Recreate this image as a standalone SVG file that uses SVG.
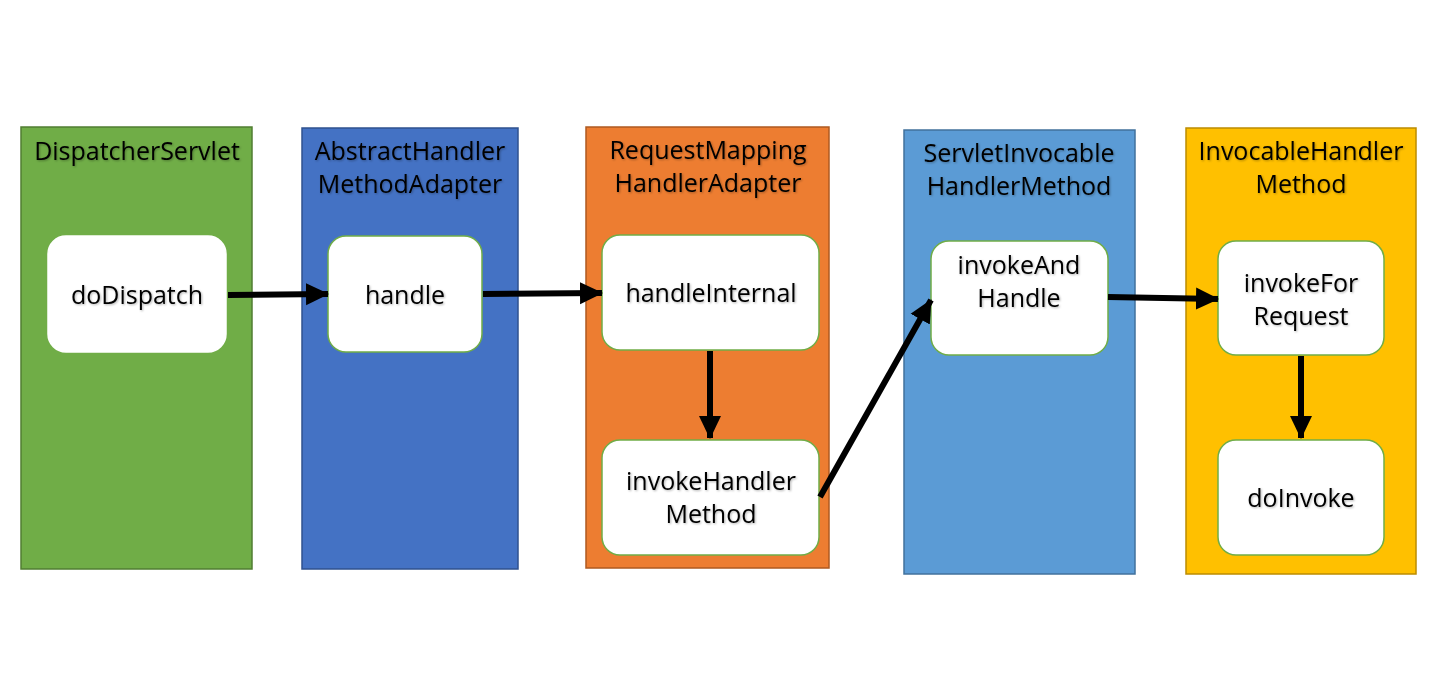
<svg xmlns="http://www.w3.org/2000/svg" width="1440" height="698" viewBox="0 0 1440 698">
<style>
text{font-family:"Open Sans","Noto Sans",sans-serif;font-size:25px;fill:#000;text-anchor:middle;filter:url(#sh)}
.node rect{fill:#fff;stroke:#70AD47;stroke-width:1.5}
.conn line{stroke:#000;stroke-width:6}
</style>
<defs>
<filter id="sh" x="-10%" y="-20%" width="120%" height="150%"><feDropShadow dx="1" dy="1" stdDeviation="0.8" flood-color="#000" flood-opacity="0.3"/></filter>
<marker id="ah" markerUnits="userSpaceOnUse" markerWidth="24" markerHeight="24" refX="22" refY="12" orient="auto"><path d="M0,1 L23,12 L0,23 Z" fill="#000"/></marker>
</defs>
<rect width="1440" height="698" fill="#fff"/>
<g id="c1"><rect x="21" y="127" width="231" height="442" fill="#70AD47" stroke="#507E32" stroke-width="1.5"/><text x="137" y="160">DispatcherServlet</text></g>
<g id="c2"><rect x="302" y="128" width="216" height="441" fill="#4472C4" stroke="#2F528F" stroke-width="1.5"/><text x="410" y="160">AbstractHandler</text><text x="410" y="193">MethodAdapter</text></g>
<g id="c3"><rect x="586" y="127" width="243" height="441" fill="#ED7D31" stroke="#AE5A21" stroke-width="1.5"/><text x="708" y="159">RequestMapping</text><text x="708" y="192">HandlerAdapter</text></g>
<g id="c4"><rect x="904" y="130" width="231" height="444" fill="#5B9BD5" stroke="#41719C" stroke-width="1.5"/><text x="1019" y="162">ServletInvocable</text><text x="1019" y="195">HandlerMethod</text></g>
<g id="c5"><rect x="1186" y="128" width="230" height="446" fill="#FFC000" stroke="#BC8C00" stroke-width="1.5"/><text x="1301" y="160">InvocableHandler</text><text x="1301" y="193">Method</text></g>
<g id="n1" class="node"><rect x="48" y="236" width="178" height="116" rx="18" style="stroke:#fff"/><text x="137" y="304">doDispatch</text></g>
<g id="n2" class="node"><rect x="328" y="236" width="154" height="116" rx="18"/><text x="405" y="304">handle</text></g>
<g id="n3" class="node"><rect x="602" y="235" width="217" height="115" rx="18"/><text x="711" y="302">handleInternal</text></g>
<g id="n4" class="node"><rect x="602" y="440" width="217" height="115" rx="18"/><text x="711" y="490">invokeHandler</text><text x="711" y="523">Method</text></g>
<g id="n5" class="node"><rect x="931" y="241" width="177" height="114" rx="18"/><text x="1019" y="274">invokeAnd</text><text x="1019" y="307">Handle</text></g>
<g id="n6" class="node"><rect x="1218" y="241" width="166" height="114" rx="18"/><text x="1301" y="292">invokeFor</text><text x="1301" y="325">Request</text></g>
<g id="n7" class="node"><rect x="1218" y="440" width="166" height="115" rx="18"/><text x="1301" y="507">doInvoke</text></g>
<g id="connectors" class="conn">
<line x1="228" y1="295" x2="328" y2="294" marker-end="url(#ah)"/>
<line x1="483" y1="294" x2="602" y2="293" marker-end="url(#ah)"/>
<line x1="710" y1="351" x2="710" y2="438" marker-end="url(#ah)"/>
<line x1="820" y1="497" x2="931" y2="300" marker-end="url(#ah)"/>
<line x1="1108" y1="297" x2="1218" y2="299" marker-end="url(#ah)"/>
<line x1="1301" y1="356" x2="1301" y2="438" marker-end="url(#ah)"/>
</g>
</svg>
